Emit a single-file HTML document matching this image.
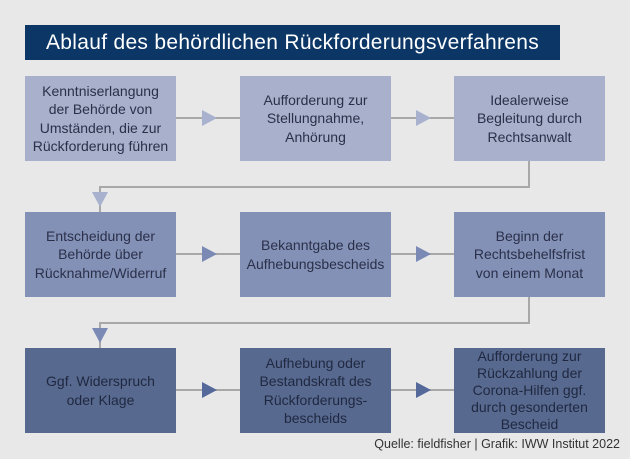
<!DOCTYPE html><html><head><meta charset="utf-8"><style>
body{margin:0;width:630px;height:459px;background:#e8e8e8;font-family:"Liberation Sans",sans-serif;position:relative;overflow:hidden}
.t{position:absolute;left:25px;top:25px;width:535px;height:35px;background:#0c3665;color:#fff;font-size:21px;line-height:35px;padding-left:21px;box-sizing:border-box;letter-spacing:0.3px}
.b{position:absolute;width:151px;height:85px;display:flex;align-items:center;justify-content:center;text-align:center;font-size:14px;line-height:18.5px;color:#2b3049}
.r1{background:#a9b0cc;top:76px}.r2{background:#8391b7;top:212px}.r3{background:#58698f;top:348px;color:#1f2840}
.c1{left:25px}.c2{left:240px}.c3{left:454px}
.src{position:absolute;right:10px;top:437px;font-size:12.5px;color:#333}
</style></head><body>
<div class="t">Ablauf des behördlichen Rückforderungsverfahrens</div>
<svg width="630" height="459" style="position:absolute;left:0;top:0">
<g stroke="#a8a8a8" stroke-width="2" fill="none">
<line x1="176" y1="118" x2="240" y2="118"/><line x1="390" y1="118" x2="454" y2="118"/>
<line x1="176" y1="254" x2="240" y2="254"/><line x1="390" y1="254" x2="454" y2="254"/>
<line x1="176" y1="390" x2="240" y2="390"/><line x1="390" y1="390" x2="454" y2="390"/>
<polyline points="529,161 529,187 100,187 100,212"/>
<polyline points="529,297 529,323 100,323 100,348"/>
</g>
<g fill="#a8b2cf"><polygon points="202,110 217,118 202,126"/><polygon points="416,110 431,118 416,126"/><polygon points="92,192 108,192 100,207"/></g>
<g fill="#7b8ab5"><polygon points="202,246 217,254 202,262"/><polygon points="416,246 431,254 416,262"/><polygon points="92,328 108,328 100,343"/></g>
<g fill="#55689a"><polygon points="202,382 217,390 202,398"/><polygon points="416,382 431,390 416,398"/></g>
</svg>
<div class="b r1 c1">Kenntniserlangung<br>der Behörde von<br>Umständen, die zur<br>Rückforderung führen</div>
<div class="b r1 c2">Aufforderung zur<br>Stellungnahme,<br>Anhörung</div>
<div class="b r1 c3">Idealerweise<br>Begleitung durch<br>Rechtsanwalt</div>
<div class="b r2 c1">Entscheidung der<br>Behörde über<br>Rücknahme/Widerruf</div>
<div class="b r2 c2">Bekanntgabe des<br>Aufhebungsbescheids</div>
<div class="b r2 c3">Beginn der<br>Rechtsbehelfsfrist<br>von einem Monat</div>
<div class="b r3 c1">Ggf. Widerspruch<br>oder Klage</div>
<div class="b r3 c2">Aufhebung oder<br>Bestandskraft des<br>Rückforderungs-<br>bescheids</div>
<div class="b r3 c3" style="line-height:17px">Aufforderung zur<br>Rückzahlung der<br>Corona-Hilfen ggf.<br>durch gesonderten<br>Bescheid</div>
<div class="src">Quelle: fieldfisher | Grafik: IWW Institut 2022</div>
</body></html>
